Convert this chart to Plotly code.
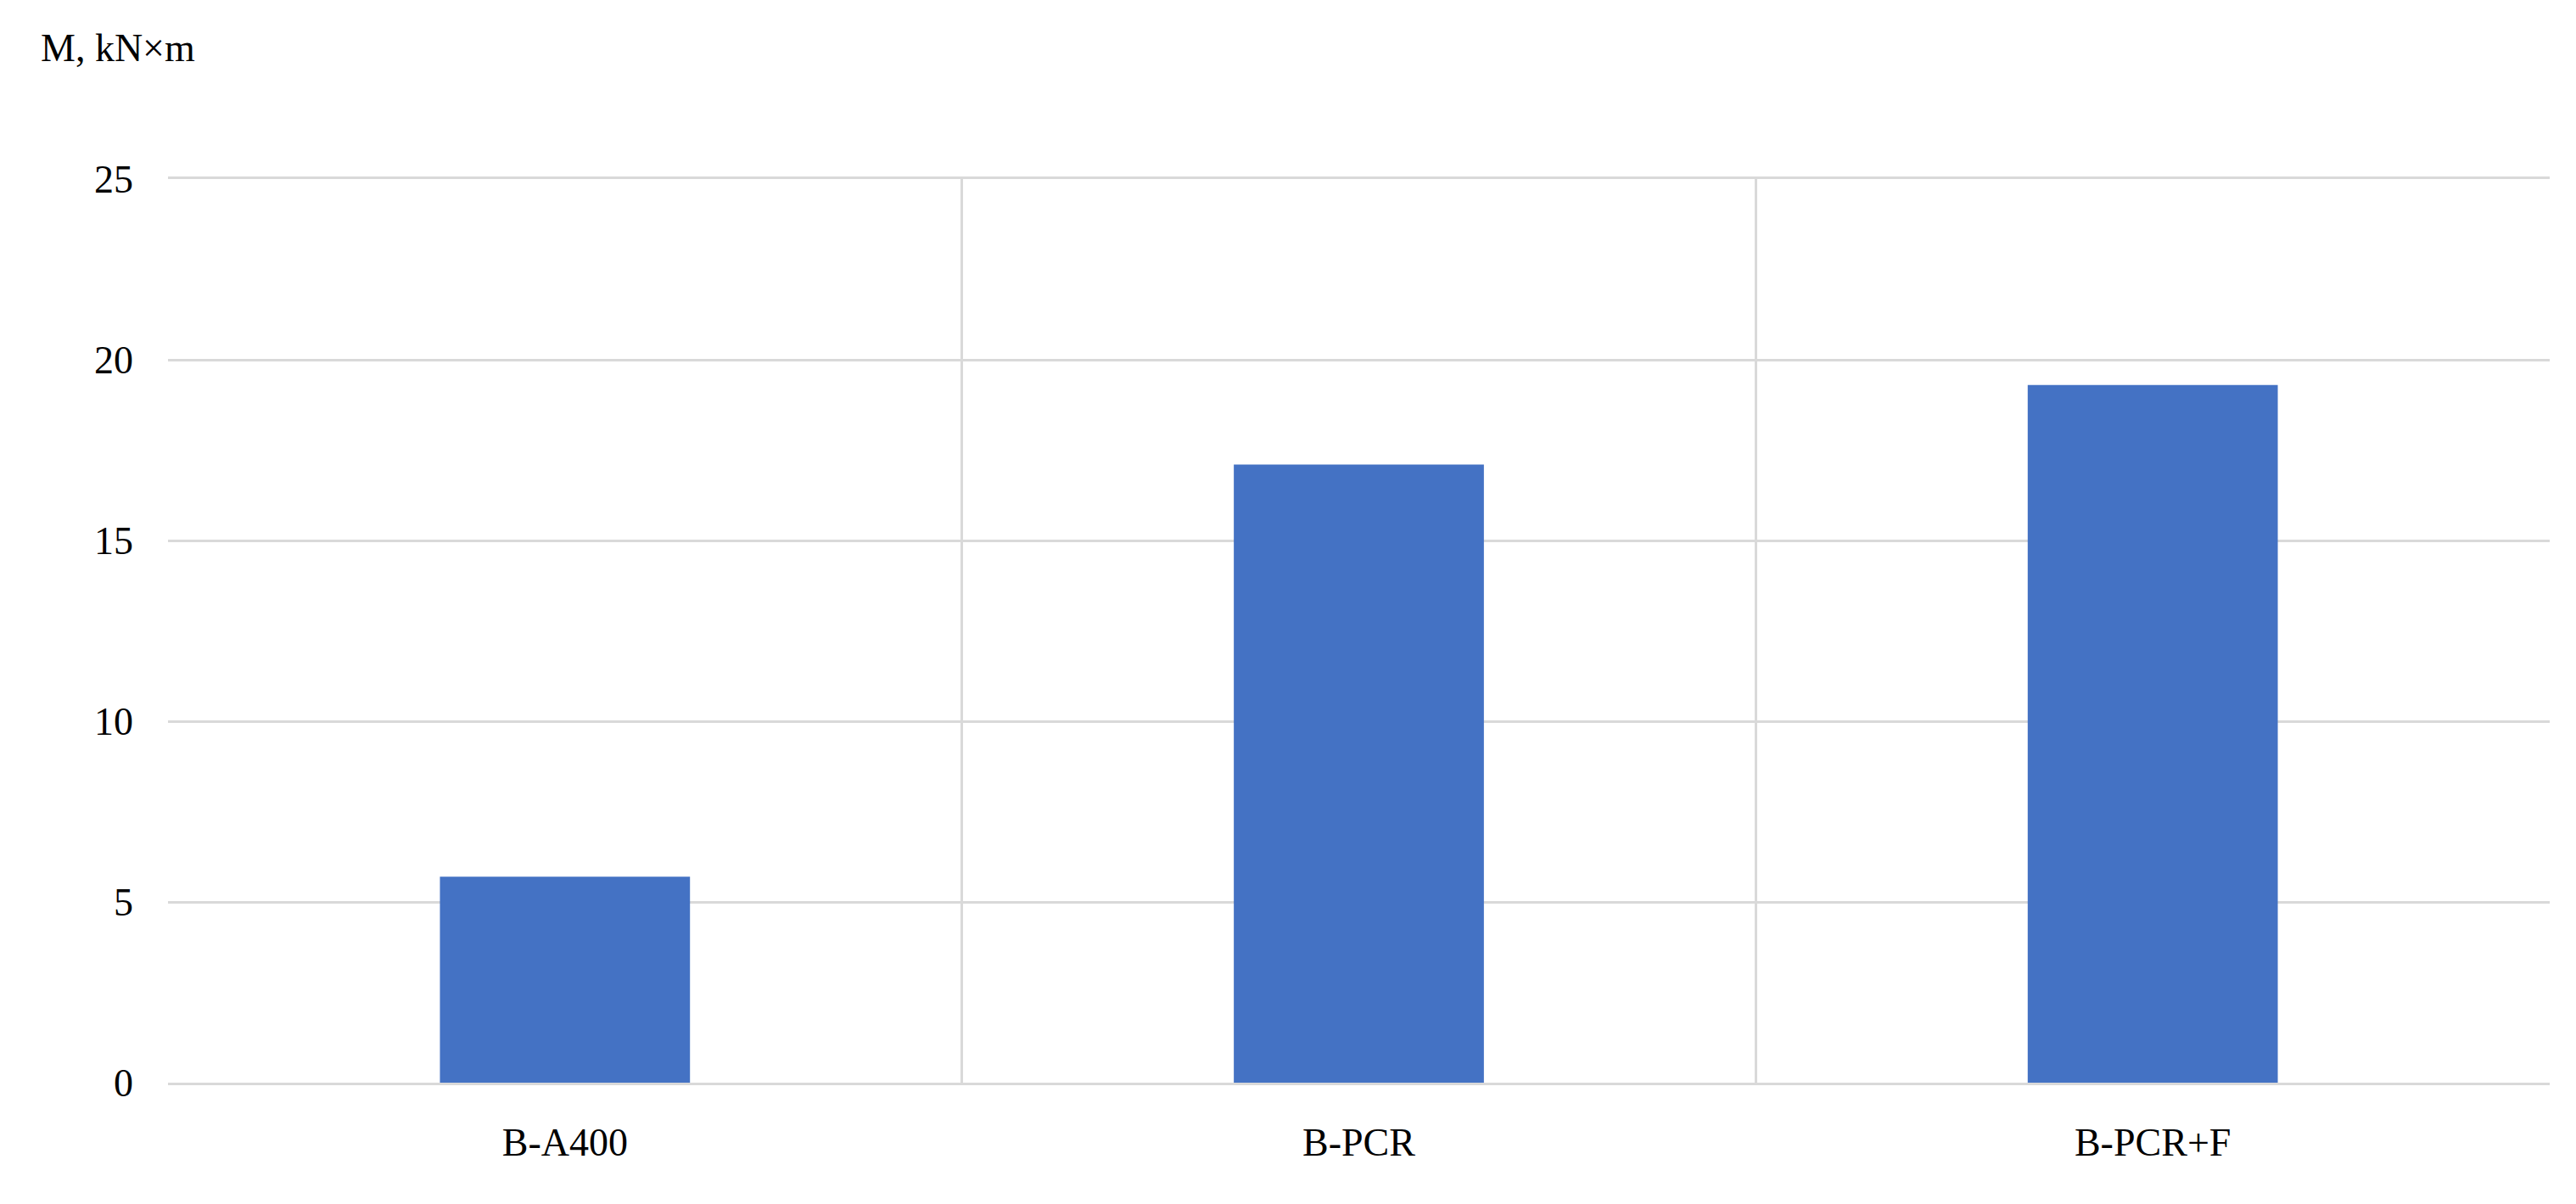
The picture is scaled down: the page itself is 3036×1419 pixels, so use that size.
import plotly.graph_objects as go

categories = ["B-A400", "B-PCR", "B-PCR+F"]
moments = [5.7, 17.1, 19.3]
y_ticks = [0, 5, 10, 15, 20, 25]

grid = "#d9d9d9"
font = "Liberation Serif"

fig = go.Figure()
fig.add_trace(
    go.Bar(
        x=list(range(len(categories))),
        y=moments,
        width=0.315,
        marker=dict(color="#4472c4", line=dict(width=0)),
    )
)

fig.update_layout(
    width=3036,
    height=1419,
    paper_bgcolor="white",
    plot_bgcolor="white",
    showlegend=False,
    margin=dict(l=190, r=39, t=203, b=151),
    font=dict(family=font, size=46, color="#000000"),
    annotations=[
        dict(
            text="M, kN×m",
            xref="paper", yref="paper",
            x=-0.054, y=1.145,
            xanchor="left", yanchor="middle",
            showarrow=False,
            font=dict(family=font, size=46),
        )
    ],
)

fig.update_xaxes(
    range=[-0.5, 2.5],
    tickvals=[0, 1, 2],
    ticktext=categories,
    showgrid=False,
    ticks="",
    ticklabelstandoff=28,
    showline=True, mirror=True, linecolor=grid, linewidth=3,
    minor=dict(tickvals=[0.5, 1.5], showgrid=True, gridcolor=grid, gridwidth=3),
    zeroline=False,
)
fig.update_yaxes(
    range=[0, 25],
    tickvals=y_ticks,
    showgrid=True, gridcolor=grid, gridwidth=3,
    zeroline=False,
    ticks="",
    ticklabelstandoff=40,
    showline=False,
)

fig.write_html("out.html")
